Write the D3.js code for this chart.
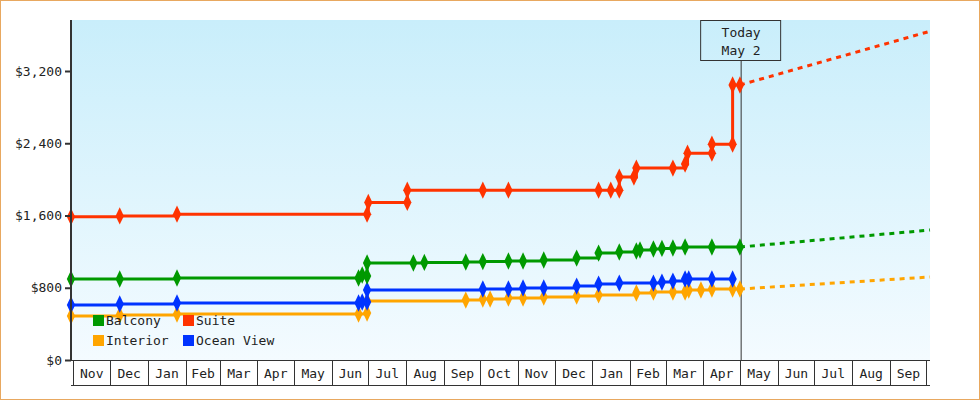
<!DOCTYPE html><html><head><script src="https://cdn.jsdelivr.net/npm/d3@7"></script>
<style>body{margin:0}svg{display:block}text{font-family:"DejaVu Sans Mono",monospace;font-size:13px;fill:#222}</style></head><body><svg id="c" width="980" height="400"></svg>
<script>
const suite=[["2022-10-30",1585],["2022-12-09",1595],["2023-01-25",1615],["2023-06-30",1615],["2023-07-01",1745],["2023-08-02",1745],["2023-08-02",1880],["2023-10-03",1880],["2023-10-24",1880],["2024-01-06",1880],["2024-01-16",1880],["2024-01-23",1880],["2024-01-23",2025],["2024-02-04",2025],["2024-02-06",2125],["2024-03-07",2125],["2024-03-17",2170],["2024-03-19",2290],["2024-04-08",2290],["2024-04-08",2390],["2024-04-25",2390],["2024-04-25",3045],["2024-05-01",3045]];
const balcony=[["2022-10-30",897],["2022-12-09",897],["2023-01-25",908],["2023-06-23",908],["2023-06-26",941],["2023-06-30",930],["2023-06-30",1074],["2023-08-07",1074],["2023-08-16",1080],["2023-09-19",1085],["2023-10-03",1090],["2023-10-24",1096],["2023-11-05",1096],["2023-11-22",1107],["2023-12-19",1129],["2024-01-06",1184],["2024-01-23",1196],["2024-02-06",1207],["2024-02-09",1218],["2024-02-20",1229],["2024-02-27",1235],["2024-03-07",1240],["2024-03-17",1251],["2024-04-08",1251],["2024-05-01",1251]];
const oceanView=[["2022-10-30",609],["2022-12-09",620],["2023-01-25",631],["2023-06-23",631],["2023-06-26",642],["2023-06-30",642],["2023-06-30",775],["2023-10-03",786],["2023-10-24",786],["2023-11-05",797],["2023-11-22",797],["2023-12-19",819],["2024-01-06",841],["2024-01-23",852],["2024-02-20",852],["2024-02-27",863],["2024-03-07",874],["2024-03-17",897],["2024-03-20",897],["2024-04-08",897],["2024-04-25",897]];
const interior=[["2022-10-30",487],["2022-12-09",498],["2023-01-25",509],["2023-06-23",509],["2023-06-30",520],["2023-06-30",653],["2023-09-19",664],["2023-10-03",675],["2023-10-09",675],["2023-10-24",686],["2023-11-05",686],["2023-11-22",697],["2023-12-19",708],["2024-01-06",720],["2024-02-06",742],["2024-02-20",753],["2024-03-07",753],["2024-03-17",753],["2024-03-20",775],["2024-03-30",775],["2024-04-08",786],["2024-04-25",786],["2024-05-01",786]];
const forecasts=[["Suite",[["2024-05-01",3045],["2024-10-04",3640]]],["Balcony",[["2024-05-01",1251],["2024-10-04",1439]]],["Interior",[["2024-05-01",786],["2024-10-04",919]]]];
const yTicks=[0,800,1600,2400,3200];
const series=[["Interior",interior,"#ffa500"],["Ocean View",oceanView,"#0033ff"],["Balcony",balcony,"#009900"],["Suite",suite,"#ff3300"]];
const colors={Suite:"#ff3300",Balcony:"#009900",Interior:"#ffa500","Ocean View":"#0033ff"};
const today="2024-05-02";

const p=d3.timeParse("%Y-%m-%d");
const svg=d3.select("#c");
svg.append("rect").attr("x",0.5).attr("y",0.5).attr("width",979).attr("height",399).attr("fill","#fff").attr("stroke","#e8a860");
const L=71,R=930,T=20,B=360;
const x=d3.scaleTime().domain([p("2022-10-30"),p("2024-10-04")]).range([L,R]);
const y=d3.scaleLinear().domain([0,3200]).range([B,71]);
const g=svg.append("defs").append("linearGradient").attr("id","bg").attr("x1",0).attr("y1",0).attr("x2",0).attr("y2",1);
g.append("stop").attr("offset",0).attr("stop-color","#c9eefb");g.append("stop").attr("offset",1).attr("stop-color","#f4fbff");
svg.append("rect").attr("x",L).attr("y",T).attr("width",R-L).attr("height",B-T).attr("fill","url(#bg)");
// today
const tx=x(p(today));
svg.append("line").attr("x1",tx).attr("x2",tx).attr("y1",60).attr("y2",B).attr("stroke","#333");
svg.append("rect").attr("x",tx-40.5).attr("y",20.5).attr("width",80).attr("height",40).attr("fill","none").attr("stroke","#333");
svg.append("text").attr("x",tx).attr("y",37).attr("text-anchor","middle").text("Today");
svg.append("text").attr("x",tx).attr("y",55).attr("text-anchor","middle").text("May 2");
// lines
const line=d3.line().x(d=>x(p(d[0]))).y(d=>y(d[1])).curve(d3.curveStepAfter);
const sym=d3.symbol().type(d3.symbolDiamond).size(60);
forecasts.forEach(([n,d])=>svg.append("path").attr("d",d3.line().x(d=>x(p(d[0]))).y(d=>y(d[1]))(d)).attr("fill","none").attr("stroke",colors[n]).attr("stroke-width",3).attr("stroke-dasharray","5,5"));
series.forEach(([n,d,c])=>{
 svg.append("path").attr("d",line(d)).attr("fill","none").attr("stroke",c).attr("stroke-width",3);
 svg.selectAll(null).data(d).enter().append("path").attr("d",sym).attr("transform",e=>`translate(${x(p(e[0]))},${y(e[1])}) scale(1,1.2)`).attr("fill",c);
});
// y axis
const ya=svg.append("g").attr("transform",`translate(${L},0)`).call(d3.axisLeft(y).tickValues(yTicks).tickFormat(d=>"$"+d3.format(",")(d)).tickSize(6).tickSizeOuter(0));
ya.select(".domain").remove();
ya.selectAll("line").attr("stroke","#333").attr("stroke-width",2);
ya.selectAll("text").style("font-family","DejaVu Sans Mono").style("font-size","13px").attr("fill","#333");
svg.append("line").attr("x1",L).attr("x2",L).attr("y1",T).attr("y2",B+1).attr("stroke","#333").attr("stroke-width",2);
// x month boxes
const months=d3.timeMonth.range(p("2022-11-01"),p("2024-10-04"));
const mf=d3.timeFormat("%b");
svg.append("line").attr("x1",L).attr("x2",R).attr("y1",B+0.5).attr("y2",B+0.5).attr("stroke","#333");
svg.append("line").attr("x1",L).attr("x2",R).attr("y1",385.5).attr("y2",385.5).attr("stroke","#333");
months.forEach(m=>{
 const x0=Math.round(x(m))+0.5,x1=Math.min(R,x(d3.timeMonth.offset(m,1)));
 svg.append("line").attr("x1",x0).attr("x2",x0).attr("y1",B).attr("y2",385).attr("stroke","#333");
 if(x1-x0>20) svg.append("text").attr("x",(x0+x1)/2).attr("y",378).attr("text-anchor","middle").text(mf(m));
});
// legend
const leg=[["Balcony",93,320],["Suite",183,320],["Interior",93,340],["Ocean View",183,340]];
leg.forEach(([n,lx,ly])=>{svg.append("rect").attr("x",lx).attr("y",ly-5).attr("width",11).attr("height",11).attr("fill",colors[n]);
 svg.append("text").attr("x",lx+13).attr("y",ly+5).attr("fill","#333").text(n);});
</script></body></html>
